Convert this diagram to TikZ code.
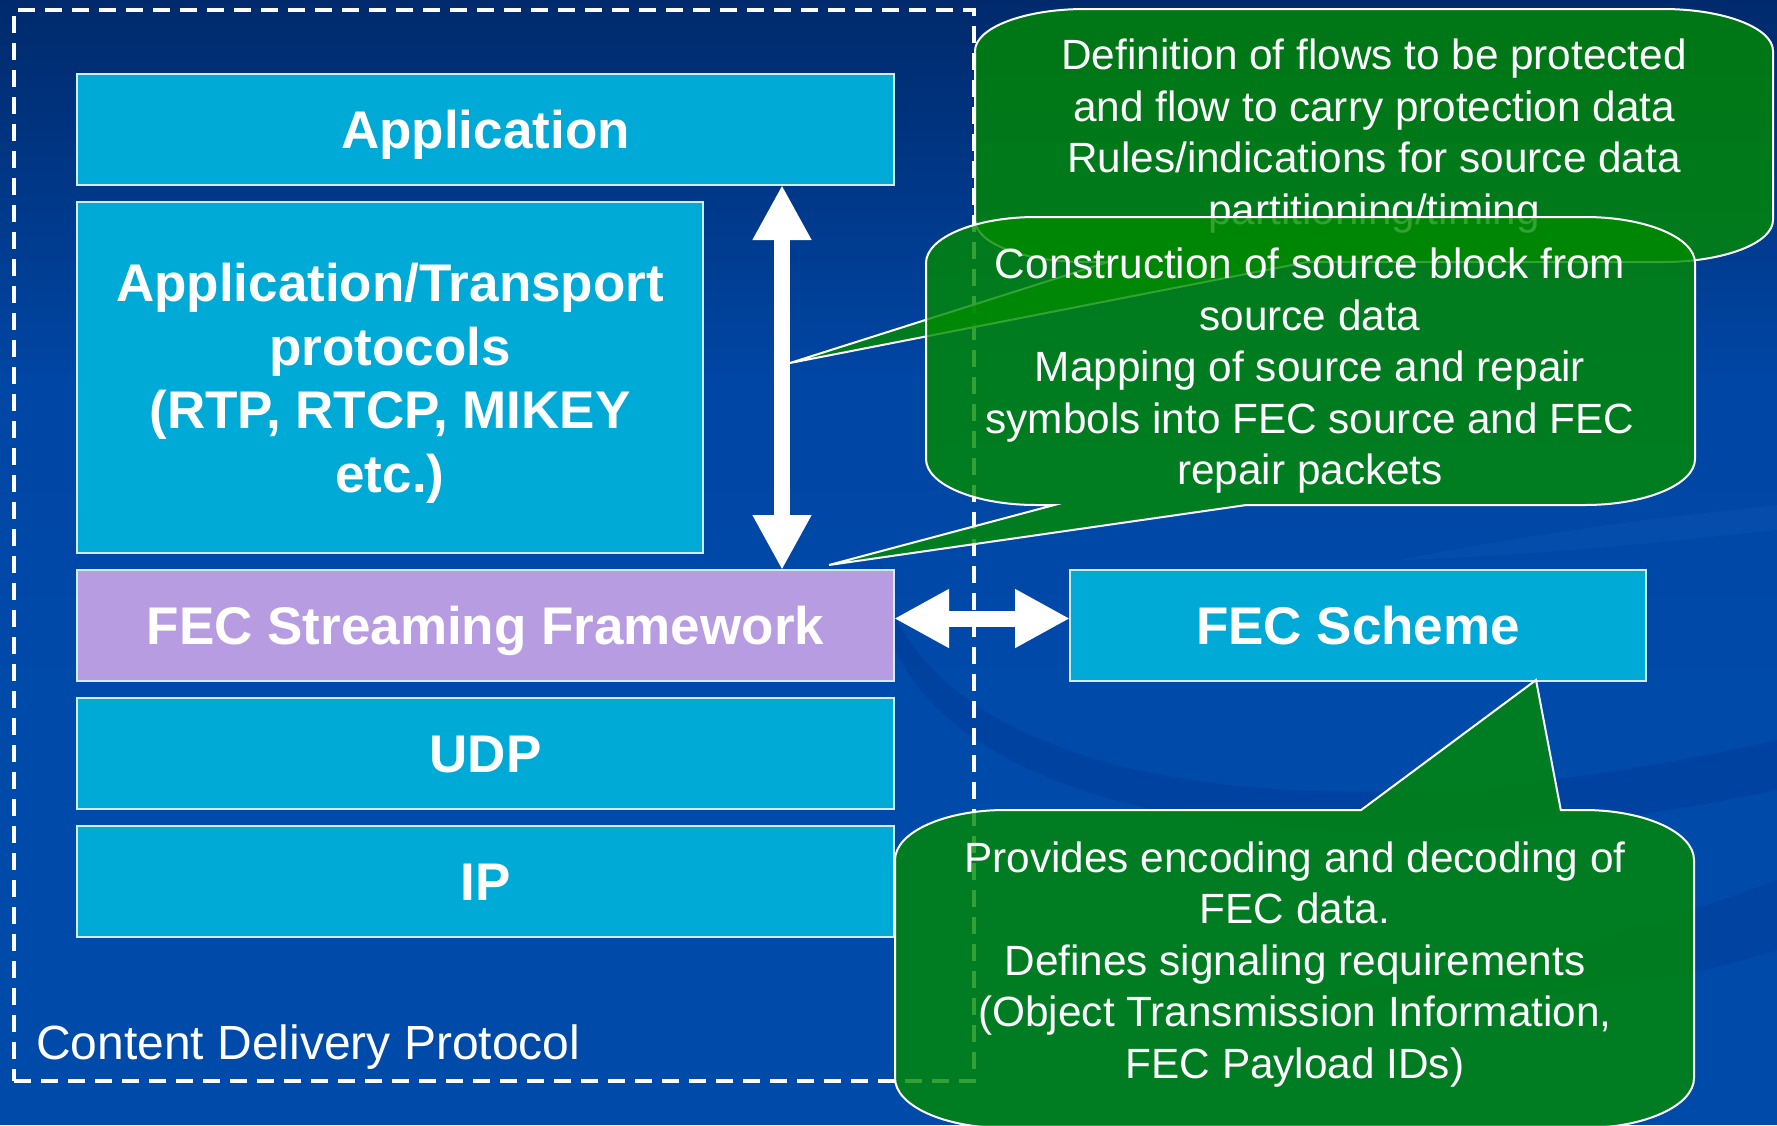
\documentclass[tikz,border=0pt]{standalone}
\usepackage{fontspec}
\setmainfont{Liberation Sans}
\usetikzlibrary{arrows.meta,calc}
\definecolor{bgtop}{RGB}{0,42,108}
\definecolor{bgmid}{RGB}{0,70,164}
\definecolor{bgbot}{RGB}{0,74,170}
\definecolor{swirldark}{RGB}{0,40,120}
\definecolor{swirllight}{RGB}{40,110,200}
\definecolor{layercyan}{RGB}{0,170,214}
\definecolor{layerline}{RGB}{205,238,248}
\definecolor{fecpurple}{RGB}{184,156,226}
\definecolor{callgreen}{RGB}{0,138,0}
\begin{document}
\begin{tikzpicture}[x=1pt,y=-1pt,
  layerbox/.style={draw=layerline, line width=2pt, fill=layercyan, text=white,
    font=\bfseries\fontsize{53}{63.5}\selectfont, align=center, inner sep=0pt, outer sep=0pt,
    text height=38pt, text depth=0pt},
  layertext/.style={text=white, font=\bfseries\fontsize{53}{63.5}\selectfont, align=center, inner sep=0pt},
  callout/.style={fill=callgreen, fill opacity=0.8, draw=white, line width=2pt},
  callouttext/.style={text=white, font=\fontsize{42.3}{51.5}\selectfont, align=center, inner sep=0pt},
  bigarrow/.style={draw=white, line width=16pt, {Triangle[length=55pt,width=55pt]}-{Triangle[length=55pt,width=55pt]}},
  cdpframe/.style={draw=white, line width=3.5pt, dash pattern=on 17pt off 10pt, inner sep=0pt, outer sep=0pt}
]
% background
\useasboundingbox (0,0) rectangle (1777,1125);
\fill[bgbot] (0,0) rectangle (1777,1125);
\shade[top color=bgtop, bottom color=bgmid] (0,0) rectangle (1777,380);
\fill[bgmid] (0,379) rectangle (1777,420);
\shade[top color=bgmid, bottom color=bgbot] (0,419) rectangle (1777,700);
% subtle swirls
\fill[swirldark, opacity=0.22] (880,560) .. controls (900,760) and (1250,860) .. (1777,740)
  -- (1777,790) .. controls (1250,900) and (860,790) .. (880,560) -- cycle;
\fill[swirldark, opacity=0.18] (1300,1000) .. controls (1500,960) and (1650,930) .. (1777,880)
  -- (1777,950) .. controls (1650,990) and (1500,1010) .. (1300,1000) -- cycle;
\fill[swirllight, opacity=0.15] (1400,560) .. controls (1550,530) and (1680,515) .. (1777,505)
  -- (1777,530) .. controls (1680,540) and (1550,555) .. (1400,560) -- cycle;

% content delivery protocol frame
\node[cdpframe, minimum width=960pt, minimum height=1071pt] (cdp) at (494,545.5) {};
\node[anchor=base west, text=white, font=\fontsize{48}{56}\selectfont, inner sep=0pt] (cdplabel) at (36,1059) {Content Delivery Protocol};

% layers
\node[layerbox, minimum width=817pt, minimum height=111pt] (app) at (485.5,129.5) {Application};
\node[layerbox, minimum width=626pt, minimum height=351pt] (apptr) at (390,377.5) {};
\node[layertext] (apptrtext) at (390,383.2) {Application/Transport\\protocols\\(RTP, RTCP, MIKEY\\etc.)};
\node[layerbox, fill=fecpurple, minimum width=817pt, minimum height=111pt] (fec) at (485.5,625.5) {FEC Streaming Framework};
\node[layerbox, minimum width=817pt, minimum height=111pt] (udp) at (485.5,753.5) {UDP};
\node[layerbox, minimum width=817pt, minimum height=111pt] (ip) at (485.5,881.5) {IP};
\node[layerbox, minimum width=576pt, minimum height=111pt] (scheme) at (1358,625.5) {FEC Scheme};

% arrows
\coordinate (vx) at (782,0);
\draw[bigarrow] (app.south -| vx) -- (fec.north -| vx);
\draw[bigarrow] ([yshift=7pt]fec.east) -- ([yshift=7pt]scheme.west);

% callout tips
\coordinate (tipT) at (790,363);
\coordinate (tipS) at (829,565);
\coordinate (tipB) at (1536,680);

% top callout
\draw[callout] (1085,9) -- (1663,9) .. controls (1723.75,9) and (1773,27.8) .. (1773,51)
  -- (1773,220) .. controls (1773,243.2) and (1723.75,262) .. (1663,262)
  -- (1307.5,262) -- (tipT) -- (1108,262) -- (1085,262)
  .. controls (1024.25,262) and (975,243.2) .. (975,220)
  -- (975,51) .. controls (975,27.8) and (1024.25,9) .. (1085,9) -- cycle;
\node[callouttext] (ttext) at (1374,136) {Definition of flows to be protected\\and flow to carry protection data\\Rules/indications for source data\\partitioning/timing};

% second callout
\draw[callout] (1036,217) -- (1585,217) .. controls (1645.75,217) and (1695,237.6) .. (1695,263)
  -- (1695,459) .. controls (1695,484.4) and (1645.75,505) .. (1585,505)
  -- (1246.4,505) -- (tipS) -- (1054.2,505) -- (1036,505)
  .. controls (975.25,505) and (926,484.4) .. (926,459)
  -- (926,263) .. controls (926,237.6) and (975.25,217) .. (1036,217) -- cycle;
\node[callouttext] (stext) at (1310,371) {Construction of source block from\\source data\\Mapping of source and repair\\symbols into FEC source and FEC\\repair packets};

% bottom callout
\draw[callout] (1005,810) -- (1361.1,810) -- (tipB) -- (1560.8,810) -- (1584,810)
  .. controls (1644.75,810) and (1694,832.4) .. (1694,860)
  -- (1694,1078) .. controls (1694,1105.6) and (1644.75,1128) .. (1584,1128)
  -- (1005,1128) .. controls (944.25,1128) and (895,1105.6) .. (895,1078)
  -- (895,860) .. controls (895,832.4) and (944.25,810) .. (1005,810) -- cycle;
\node[callouttext] (btext) at (1295,964.5) {Provides encoding and decoding of\\FEC data.\\Defines signaling requirements\\(Object Transmission Information,\\FEC Payload IDs)};
\end{tikzpicture}
\end{document}
